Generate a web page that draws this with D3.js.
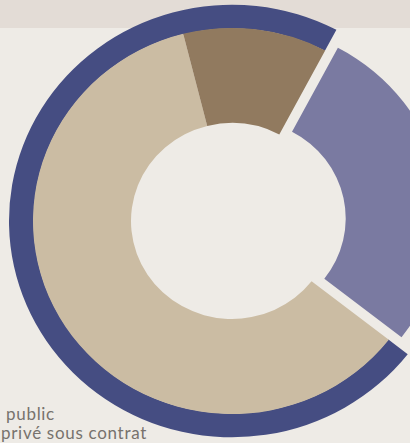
<!DOCTYPE html>
<html>
<head>
<meta charset="utf-8">
<script src="https://d3js.org/d3.v7.min.js"></script>
<style>
  html, body { margin: 0; padding: 0; background: #eeebe6; overflow: hidden; }
</style>
</head>
<body>
<svg id="chart" width="410" height="443"></svg>
<script>

// Secteurs intérieurs (parts en %)
const categories = ["public", "privé sous contrat", "autre"]
const values = [60.5, 11.7, 27.8]
const colors = ["#cbbca3", "#917a5f", "#7a7aa1"]

// Anneau extérieur : public + privé sous contrat / reste
const ringValues = [72.2, 27.8]
const ringColors = ["#454d82", "none"]

// Légende
const legendLabels = ["public", "privé sous contrat"]

const width = 410
const height = 443
const center = {x: 232, y: 221}
const squish = 0.97
const rHole = 101
const rInner = 199
const rOuter = 223
const explode = 13
const startAngle = 128 * Math.PI / 180

const svg = d3.select("#chart")

/* Fond
-------------------------------------------------------------------------------------------------*/
svg.append("rect")
  .attr("width", width)
  .attr("height", height)
  .style("fill", "#eeebe6")

svg.append("rect")
  .attr("width", width)
  .attr("height", 28)
  .style("fill", "#e3dcd6")

/* Donut
-------------------------------------------------------------------------------------------------*/
const g = svg.append("g")
  .attr("transform", "translate(" + center.x + "," + center.y + ") scale(1," + squish + ")")

const pie = d3.pie()
  .sort(null)
  .startAngle(startAngle)
  .endAngle(startAngle + 2 * Math.PI)

const arcInner = d3.arc().innerRadius(rHole).outerRadius(rInner)
const arcRing = d3.arc().innerRadius(rInner - 0.5).outerRadius(rOuter)

// Anneau extérieur
g.append("g")
  .attr("class", "ring")
  .selectAll("path")
  .data(pie(ringValues))
  .enter()
  .append("path")
  .style("fill", (d, i) => ringColors[i])
  .attr("d", arcRing)

// Secteurs, le dernier est détaché
g.append("g")
  .attr("class", "slices")
  .selectAll("path")
  .data(pie(values))
  .enter()
  .append("path")
  .style("fill", (d, i) => colors[i])
  .attr("transform", (d, i) => {
    if (i !== categories.length - 1) return null
    const a = (d.startAngle + d.endAngle) / 2
    return "translate(" + (Math.sin(a) * explode) + "," + (-Math.cos(a) * explode) + ")"
  })
  .attr("d", arcInner)

/* Légende
-------------------------------------------------------------------------------------------------*/
svg.append("g")
  .attr("class", "legende")
  .selectAll("text")
  .data(legendLabels)
  .enter()
  .append("text")
  .attr("x", (d, i) => i === 0 ? 6 : 1)
  .attr("y", (d, i) => 420 + i * 19)
  .style("font-family", "Lato")
  .style("font-size", "17px")
  .style("letter-spacing", "0.7px")
  .style("fill", "#77726d")
  .text(d => d)

</script>
</body>
</html>
